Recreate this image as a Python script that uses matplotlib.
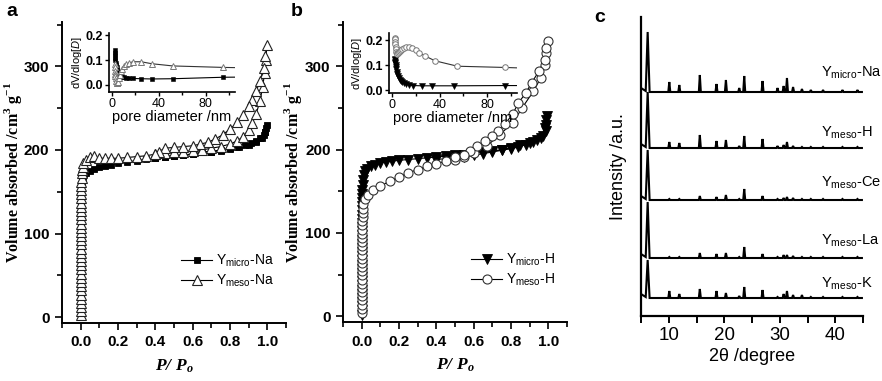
import numpy as np
import matplotlib
matplotlib.use("Agg")
import matplotlib.pyplot as plt
from matplotlib.ticker import MultipleLocator, FormatStrFormatter

plt.rcParams['font.family'] = ['Liberation Sans', 'DejaVu Sans']
plt.rcParams['mathtext.fontset'] = 'custom'
plt.rcParams['mathtext.rm'] = 'Liberation Sans'
plt.rcParams['mathtext.it'] = 'Liberation Sans:italic'
plt.rcParams['mathtext.bf'] = 'Liberation Sans:bold'

# ---------------- Panel a: N2 isotherms (Na forms) ----------------
a_micro_P = [0.001, 0.001, 0.001, 0.001, 0.001, 0.001, 0.001, 0.001, 0.001, 0.001, 0.001,
             0.001, 0.001, 0.001, 0.001, 0.001,
             0.002, 0.002, 0.002, 0.002, 0.002, 0.002, 0.002, 0.002, 0.002, 0.002,
             0.003, 0.003, 0.003, 0.003, 0.003, 0.004, 0.005,
             0.01, 0.02, 0.03, 0.05, 0.07, 0.10, 0.13, 0.16, 0.20, 0.25, 0.30, 0.35, 0.40, 0.45,
             0.50, 0.55, 0.60, 0.65, 0.70, 0.75, 0.80, 0.84, 0.88, 0.91, 0.94, 0.96, 0.98, 0.99,
             0.995, 0.998,
             0.99, 0.97, 0.94, 0.90, 0.85, 0.80, 0.75, 0.70, 0.65, 0.60, 0.55, 0.50, 0.45, 0.40]
a_micro_V = [2, 7, 12, 17, 22, 27, 32, 37, 42, 47, 52,
             57, 62, 67, 72, 77,
             82, 87, 92, 97, 102, 107, 112, 117, 122, 127,
             132, 137, 142, 147, 152, 157, 162,
             168, 171, 173, 175, 177, 179, 181, 182, 184, 186, 187, 189, 190, 192,
             193, 194, 195, 197, 198, 200, 202, 204, 206, 208, 211, 214, 218, 222,
             226, 230,
             222, 214, 209, 206, 203, 201, 199, 198, 197, 195, 194, 193, 192, 190]

a_meso_P = [0.001, 0.001, 0.001, 0.001, 0.001, 0.001, 0.001, 0.001, 0.001, 0.001, 0.001,
            0.001, 0.001, 0.001, 0.001, 0.001,
            0.002, 0.002, 0.002, 0.002, 0.002, 0.002, 0.002, 0.002, 0.002, 0.002,
            0.003, 0.003, 0.003, 0.003, 0.003, 0.004, 0.004, 0.005, 0.005,
            0.006, 0.01, 0.015, 0.03, 0.05, 0.07, 0.10, 0.13, 0.16, 0.20, 0.25, 0.30, 0.35,
            0.40, 0.45, 0.50, 0.55, 0.60, 0.65, 0.70, 0.75, 0.80, 0.84, 0.87, 0.90, 0.92,
            0.94, 0.96, 0.975, 0.985, 0.992, 0.997,
            0.99, 0.98, 0.96, 0.94, 0.92, 0.90, 0.87, 0.84, 0.80, 0.76, 0.72, 0.68, 0.64,
            0.60, 0.55, 0.50, 0.45, 0.42, 0.40]
a_meso_V = [2, 7, 12, 17, 22, 27, 32, 37, 42, 47, 52,
            57, 62, 67, 72, 77,
            82, 87, 92, 97, 102, 107, 112, 117, 122, 127,
            132, 137, 142, 147, 152, 157, 162, 167, 172,
            176, 180, 184, 188, 192, 193, 190, 190, 190, 190, 191, 192, 193,
            195, 196, 197, 198, 199, 200, 202, 204, 207, 211, 216, 224, 232,
            243, 258, 275, 292, 308, 326,
            312, 298, 282, 270, 260, 252, 242, 233, 225, 218, 213, 209, 207,
            205, 204, 203, 202, 198, 195]

# ---------------- Panel b: N2 isotherms (H forms) ----------------
b_micro_P = [0.001, 0.001, 0.001, 0.001, 0.001, 0.001, 0.001, 0.001, 0.001, 0.001,
             0.001, 0.001, 0.001, 0.001, 0.001,
             0.002, 0.002, 0.002, 0.002, 0.002, 0.002, 0.002, 0.002, 0.002, 0.002,
             0.003, 0.003, 0.003, 0.003, 0.004, 0.004,
             0.005, 0.007, 0.01, 0.02, 0.03, 0.05, 0.07, 0.10, 0.13, 0.16, 0.20, 0.25, 0.30,
             0.35, 0.40, 0.45, 0.50, 0.55, 0.60, 0.65, 0.70, 0.75, 0.80, 0.85, 0.90, 0.94,
             0.97, 0.985, 0.99, 0.995,
             0.99, 0.98, 0.96, 0.92, 0.88, 0.84, 0.80, 0.75, 0.70, 0.65, 0.60, 0.55, 0.50,
             0.45, 0.40]
b_micro_V = [2, 7, 12, 17, 22, 27, 32, 37, 42, 47,
             52, 57, 62, 67, 72,
             77, 82, 87, 92, 97, 102, 107, 112, 117, 122,
             127, 132, 137, 142, 147, 152,
             158, 164, 170, 174, 177, 180, 182, 184, 185, 186, 187, 188, 189,
             190, 191, 192, 193, 194, 195, 197, 198, 200, 202, 205, 208, 212,
             216, 222, 230, 240,
             236, 226, 214, 209, 206, 203, 201, 199, 197, 195, 193, 191, 190,
             189, 188]

b_meso_P = [0.002, 0.002, 0.002, 0.002, 0.002, 0.002, 0.002, 0.002, 0.002, 0.002,
            0.002, 0.002, 0.002, 0.003, 0.003, 0.003, 0.003, 0.003, 0.003,
            0.003, 0.004, 0.004, 0.004, 0.005, 0.005, 0.006,
            0.008, 0.02, 0.034, 0.06, 0.10, 0.15, 0.20, 0.25, 0.30, 0.35, 0.40, 0.45,
            0.50, 0.55, 0.60, 0.67, 0.74, 0.81, 0.86, 0.92, 0.96, 0.98, 0.99, 0.997,
            0.99, 0.98, 0.95, 0.91, 0.88, 0.84, 0.81, 0.77, 0.73, 0.70, 0.66, 0.62,
            0.58, 0.55, 0.50]
b_meso_V = [4, 9, 14, 19, 24, 29, 34, 39, 44, 49,
            54, 59, 64, 69, 74, 79, 84, 89, 94,
            99, 104, 109, 114, 119, 124, 129,
            135, 141, 146, 152, 156, 162, 167, 172, 176, 180, 183, 186,
            188, 191, 196, 204, 218, 232, 250, 270, 286, 302, 316, 330,
            322, 308, 294, 280, 268, 256, 243, 231, 222, 216, 210, 204,
            198, 194, 191]

# ---------------- Insets: pore size distributions ----------------
ia_D = [2.2, 2.4, 2.6, 2.8, 3.0, 3.3, 3.6, 4.0, 4.5, 5.0, 5.7, 6.5, 7.5, 8.7,
        10, 12, 14.5, 18, 25, 34, 52, 95, 120]
ia_micro = [0.14, 0.13, 0.12, 0.11, 0.10, 0.09, 0.08, 0.07, 0.06, 0.052, 0.045, 0.04,
            0.036, 0.032, 0.03, 0.028, 0.026, 0.025, 0.024, 0.023, 0.024, 0.03, 0.031]
ia_meso = [0.085, 0.07, 0.055, 0.045, 0.035, 0.025, 0.015, 0.008, 0.005, 0.012, 0.025,
           0.04, 0.055, 0.065, 0.075, 0.082, 0.088, 0.093, 0.093, 0.085, 0.076, 0.07, 0.068]

ib_D_meso = [2.2, 2.4, 2.6, 2.8, 3.0, 3.3, 3.6, 4.0, 4.5, 5.0, 5.7, 6.5, 7.5, 8.7,
             10, 12, 14.5, 17, 20, 23, 28, 36, 55, 95, 120]
ib_meso = [0.21, 0.205, 0.195, 0.185, 0.175, 0.165, 0.155, 0.148, 0.145, 0.148, 0.152,
           0.158, 0.163, 0.167, 0.171, 0.175, 0.175, 0.17, 0.16, 0.15, 0.137, 0.118,
           0.096, 0.091, 0.087]
ib_D_micro = [2.2, 2.4, 2.6, 2.8, 3.0, 3.3, 3.6, 4.0, 4.5, 5.0, 5.7, 6.5, 7.5, 8.7,
              10, 12, 14.5, 18, 25, 34, 52, 95, 120]
ib_micro = [0.125, 0.12, 0.115, 0.108, 0.1, 0.092, 0.083, 0.074, 0.065, 0.057, 0.049,
            0.042, 0.036, 0.031, 0.027, 0.023, 0.02, 0.018, 0.017, 0.017, 0.017, 0.018, 0.018]

# ---------------- Panel c: XRD ----------------
xrd_pos = [6.2, 10.1, 11.9, 15.6, 18.6, 20.3, 22.7, 23.6, 26.9, 29.6, 30.7, 31.3,
           32.4, 34.0, 35.6, 37.8, 41.3, 44.0]
xrd_names = [r'$\mathregular{Y_{micro}}$-Na', r'$\mathregular{Y_{meso}}$-H',
             r'$\mathregular{Y_{meso}}$-Ce', r'$\mathregular{Y_{meso}}$-La',
             r'$\mathregular{Y_{meso}}$-K']
xrd_offsets = [224, 168, 116, 58, 18]
xrd_heights = [
    [60, 10, 7, 17, 8, 12, 4, 16, 11, 4, 6, 14, 5, 3, 2, 2, 2, 2],
    [56, 6, 5, 13, 7, 8, 2, 12, 9, 2, 3, 6, 2, 1, 1, 1, 1, 1],
    [50, 1, 1, 4, 3, 5, 1, 11, 4, 1, 2, 3, 2, 1, 1, 1, 1, 1],
    [56, 1, 1, 5, 4, 5, 1, 11, 4, 1, 3, 3, 2, 1, 1, 1, 1, 1],
    [38, 7, 4, 9, 7, 5, 2, 11, 8, 1, 4, 7, 3, 3, 1, 1, 1, 1],
]
xrd_label_y = [243, 183, 133, 75, 32]

W, H = 882, 381
fig = plt.figure(figsize=(W / 100, H / 100), dpi=100)


def frac(l, t, r, b):
    return [l / W, 1 - b / H, (r - l) / W, (b - t) / H]


def style_main(ax, label_x):
    for s in ['top', 'right']:
        ax.spines[s].set_visible(False)
    for s in ['left', 'bottom']:
        ax.spines[s].set_linewidth(1.4)
    ax.set_xlim(-0.1, 1.1)
    ax.set_ylim(-7, 353)
    ax.xaxis.set_major_locator(MultipleLocator(0.2))
    ax.xaxis.set_minor_locator(MultipleLocator(0.1))
    ax.yaxis.set_major_locator(MultipleLocator(100))
    ax.yaxis.set_minor_locator(MultipleLocator(50))
    ax.xaxis.set_major_formatter(FormatStrFormatter('%.1f'))
    ax.tick_params(which='both', direction='out', width=1.2, labelsize=11)
    ax.tick_params(which='major', length=5, pad=4)
    ax.tick_params(which='minor', length=3.5)
    for lab in ax.get_xticklabels() + ax.get_yticklabels():
        lab.set_fontweight('bold')
    ax.set_xlabel(r'$\mathregular{P/\ P_o}$', family='Liberation Serif', style='italic',
                  weight='bold', fontsize=12.5, labelpad=6)
    ax.set_ylabel(r'Volume absorbed /cm$^\mathregular{3}$ g$^\mathregular{-1}$',
                  family='Liberation Serif', weight='bold', fontsize=11.5)
    ax.yaxis.set_label_coords(label_x, 0.5)


def style_inset(ax, ylim):
    for s in ['top', 'right']:
        ax.spines[s].set_visible(False)
    for s in ['left', 'bottom']:
        ax.spines[s].set_linewidth(1.2)
    ax.set_xlim(-2.5, 105)
    ax.set_ylim(*ylim)
    ax.xaxis.set_major_locator(MultipleLocator(40))
    ax.xaxis.set_minor_locator(MultipleLocator(20))
    ax.yaxis.set_major_locator(MultipleLocator(0.1))
    ax.yaxis.set_major_formatter(FormatStrFormatter('%.1f'))
    ax.tick_params(which='both', direction='out', width=1.0, labelsize=9, pad=1.5)
    ax.tick_params(which='major', length=3)
    ax.tick_params(which='minor', length=2)
    for lab in ax.get_yticklabels():
        lab.set_fontweight('bold')
    ax.set_xlabel('pore diameter /nm', fontsize=10.5, labelpad=0)
    ax.set_ylabel(r'dV/dlog[$\mathit{D}$]', fontsize=8, labelpad=1)
    ax.patch.set_alpha(0)


# ---- panel a ----
axa = fig.add_axes(frac(62, 22, 286, 323))
axa.plot(a_micro_P, a_micro_V, '-', color='k', lw=0.8, marker='s', ms=5, mfc='k', mec='k',
         mew=0.6, label=r'$\mathregular{Y_{micro}}$-Na', clip_on=False)
axa.plot(a_meso_P, a_meso_V, '-', color='k', lw=0.8, marker='^', ms=6.5, mfc='white', mec='#222222',
         mew=0.8, label=r'$\mathregular{Y_{meso}}$-Na', clip_on=False)
style_main(axa, (24 - 62) / 224)
axa.legend(loc='lower right', bbox_to_anchor=(0.99, 0.08), frameon=False, fontsize=10,
           handlelength=2.2, handletextpad=0.3, labelspacing=0.25, borderpad=0.2)

ia = fig.add_axes(frac(109, 33, 235, 92))
ia.plot(ia_D, ia_micro, '-', color='k', lw=0.8, marker='s', ms=3.2, mfc='k', mec='k', mew=0.4)
ia.plot(ia_D, ia_meso, '-', color='#333333', lw=0.8, marker='^', ms=4, mfc='white', mec='#777777',
        mew=0.7)
style_inset(ia, (-0.03, 0.21))

# ---- panel b ----
axb = fig.add_axes(frac(343, 22, 567, 322))
axb.plot(b_micro_P, b_micro_V, '-', color='k', lw=0.8, marker='v', ms=6.5, mfc='k', mec='k',
         mew=0.6, label=r'$\mathregular{Y_{micro}}$-H', clip_on=False)
axb.plot(b_meso_P, b_meso_V, '-', color='k', lw=0.8, marker='o', ms=6.5, mfc='white', mec='#333333',
         mew=0.8, label=r'$\mathregular{Y_{meso}}$-H', clip_on=False)
style_main(axb, (304 - 343) / 224)
axb.legend(loc='lower right', bbox_to_anchor=(0.99, 0.08), frameon=False, fontsize=10,
           handlelength=2.2, handletextpad=0.3, labelspacing=0.25, borderpad=0.2)

ib = fig.add_axes(frac(389, 33, 517, 93))
ib.plot(ib_D_micro, ib_micro, '-', color='k', lw=0.8, marker='v', ms=3.8, mfc='k', mec='k', mew=0.4)
ib.plot(ib_D_meso, ib_meso, '-', color='#333333', lw=0.8, marker='o', ms=4, mfc='white', mec='#777777',
        mew=0.7)
style_inset(ib, (-0.012, 0.23))

# ---- panel c ----
axc = fig.add_axes(frac(641, 17, 863, 316))
for name, off, hts, ly in zip(xrd_names, xrd_offsets, xrd_heights, xrd_label_y):
    xs = [5.0]
    ys = [off + 4]
    for i, (p, h) in enumerate(zip(xrd_pos, hts)):
        w = 0.35 if i == 0 else 0.18
        xs += [p - w, p, p + w]
        ys += [off + (1 if i == 0 else 0), off + h, off]
    xs.append(44.8)
    ys.append(off)
    axc.plot(xs, ys, '-', color='k', lw=1.5, solid_joinstyle='miter')
    fig.text(821 / W, 1 - (316 - ly) / H, name, fontsize=10.5, ha='left', va='center')
for s in ['top', 'right']:
    axc.spines[s].set_visible(False)
for s in ['left', 'bottom']:
    axc.spines[s].set_linewidth(1.6)
axc.set_xlim(5, 45)
axc.set_ylim(0, 299)
axc.set_yticks([])
axc.xaxis.set_major_locator(MultipleLocator(10))
axc.xaxis.set_minor_locator(MultipleLocator(5))
axc.tick_params(which='both', direction='out', width=1.4, length=5, labelsize=13.5, pad=3)
axc.set_xlabel('2θ /degree', fontsize=13, labelpad=3)
axc.set_ylabel('Intensity /a.u.', fontsize=13, labelpad=10)

# panel letters
fig.text(12 / W, 1 - 12 / H, 'a', fontsize=14, weight='bold', ha='center', va='center')
fig.text(297 / W, 1 - 12 / H, 'b', fontsize=14, weight='bold', ha='center', va='center')
fig.text(600 / W, 1 - 17 / H, 'c', fontsize=14, weight='bold', ha='center', va='center')

fig.savefig('out.png', dpi=100)
